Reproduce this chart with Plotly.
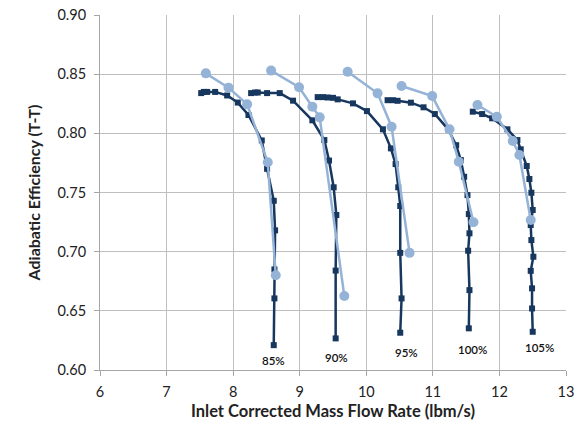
import plotly.graph_objects as go

# ---- data ----
speed_labels = ["85%", "90%", "95%", "100%", "105%"]

dark_85_x = [7.52, 7.56, 7.61, 7.73, 7.91, 8.07, 8.23, 8.43, 8.51, 8.61, 8.63, 8.62, 8.62, 8.61]
dark_85_y = [0.834, 0.835, 0.835, 0.835, 0.832, 0.826, 0.8155, 0.794, 0.770, 0.743, 0.718, 0.685, 0.6605, 0.621]
light_85_x = [7.59, 7.93, 8.21, 8.52, 8.64]
light_85_y = [0.8507, 0.8386, 0.8245, 0.7755, 0.680]

dark_90_x = [8.27, 8.33, 8.37, 8.51, 8.70, 8.90, 9.19, 9.37, 9.44, 9.51, 9.55, 9.54, 9.54]
dark_90_y = [0.834, 0.8345, 0.8345, 0.834, 0.834, 0.8276, 0.811, 0.7943, 0.777, 0.7544, 0.731, 0.684, 0.6267]
light_90_x = [8.57, 8.99, 9.19, 9.30, 9.67]
light_90_y = [0.853, 0.839, 0.8225, 0.8135, 0.6625]

dark_95_x = [9.27, 9.35, 9.42, 9.50, 9.57, 9.80, 10.01, 10.25, 10.37, 10.44, 10.48, 10.51, 10.51, 10.53, 10.51]
dark_95_y = [0.8306, 0.8306, 0.8303, 0.830, 0.8287, 0.8253, 0.8188, 0.8034, 0.7873, 0.774, 0.7544, 0.7386, 0.699, 0.6605, 0.6315]
light_95_x = [9.72, 10.17, 10.38, 10.65]
light_95_y = [0.852, 0.8338, 0.8056, 0.699]

dark_100_x = [10.32, 10.40, 10.47, 10.67, 10.86, 11.03, 11.23, 11.35, 11.42, 11.47, 11.52, 11.54, 11.55, 11.53, 11.55, 11.54]
dark_100_y = [0.828, 0.828, 0.8275, 0.8259, 0.822, 0.8163, 0.8034, 0.790, 0.7774, 0.7633, 0.7478, 0.7318, 0.7155, 0.7008, 0.6675, 0.6352]
light_100_x = [10.53, 10.99, 11.25, 11.39, 11.61]
light_100_y = [0.840, 0.8315, 0.8034, 0.776, 0.7248]

dark_105_x = [11.60, 11.74, 11.89, 12.12, 12.27, 12.32, 12.41, 12.45, 12.48, 12.50, 12.47, 12.48, 12.51, 12.47, 12.49, 12.49, 12.50]
dark_105_y = [0.8183, 0.8163, 0.8127, 0.8034, 0.7943, 0.7865, 0.7724, 0.7614, 0.7498, 0.7352, 0.7225, 0.7098, 0.6957, 0.6838, 0.669, 0.652, 0.6323]
light_105_x = [11.67, 11.96, 12.20, 12.30, 12.47]
light_105_y = [0.8239, 0.814, 0.7935, 0.7817, 0.7267]

label_x = [8.61, 9.55, 10.60, 11.59, 12.60]
label_y = [0.6084, 0.6108, 0.6151, 0.6176, 0.6193]

x_ticks = [6, 7, 8, 9, 10, 11, 12, 13]
y_ticks = [0.60, 0.65, 0.70, 0.75, 0.80, 0.85, 0.90]

DARK = "#17375E"
LIGHT = "#95B3D7"
FONT = "Lato, Liberation Sans, sans-serif"

fig = go.Figure()

darks = [(dark_85_x, dark_85_y), (dark_90_x, dark_90_y), (dark_95_x, dark_95_y),
         (dark_100_x, dark_100_y), (dark_105_x, dark_105_y)]
lights = [(light_85_x, light_85_y), (light_90_x, light_90_y), (light_95_x, light_95_y),
          (light_100_x, light_100_y), (light_105_x, light_105_y)]

for (dx, dy), (lx, ly), name in zip(darks, lights, speed_labels):
    fig.add_trace(go.Scatter(x=dx, y=dy, mode="lines+markers", name=name + " exp",
                             line=dict(color=DARK, width=2.5),
                             marker=dict(symbol="square", size=6, color=DARK)))
    fig.add_trace(go.Scatter(x=lx, y=ly, mode="lines+markers", name=name + " CFD",
                             line=dict(color=LIGHT, width=2.5),
                             marker=dict(symbol="circle", size=10, color=LIGHT)))

for t, x, y in zip(speed_labels, label_x, label_y):
    fig.add_annotation(x=x, y=y, text=t, showarrow=False,
                       font=dict(family=FONT, size=11.5, color="#111111", weight=600),
                       xanchor="center", yanchor="middle")

axis_font = dict(family=FONT, size=14.5, color="#222222")

fig.update_layout(
    width=587, height=427,
    margin=dict(l=100, r=21, t=15, b=57),
    paper_bgcolor="white", plot_bgcolor="white",
    showlegend=False,
    font=axis_font,
)
fig.update_xaxes(range=[6, 13], tickvals=x_ticks, ticktext=[str(v) for v in x_ticks],
                 showgrid=True, gridcolor="#BFBFBF", gridwidth=1,
                 showline=True, linecolor="#A6A6A6", linewidth=1,
                 ticks="outside", ticklen=5, tickcolor="#A6A6A6",
                 ticklabelstandoff=4, automargin=False,
                 zeroline=False, tickfont=axis_font,
                 title=dict(text="<b>Inlet Corrected Mass Flow Rate (lbm/s)</b>",
                            font=dict(family=FONT, size=16.5, color="#222222"),
                            standoff=6))
fig.update_yaxes(range=[0.60, 0.90], tickvals=y_ticks, ticktext=[f"{v:.2f}" for v in y_ticks],
                 showgrid=True, gridcolor="#BFBFBF", gridwidth=1,
                 showline=True, linecolor="#A6A6A6", linewidth=1,
                 ticks="outside", ticklen=5, tickcolor="#A6A6A6",
                 ticklabelstandoff=5, automargin=False,
                 zeroline=False, tickfont=axis_font,
                 title=dict(text="<b>Adiabatic Efficiency (T-T)</b>",
                            font=dict(family=FONT, size=16, color="#222222"),
                            standoff=12))

fig.write_html("out.html")
